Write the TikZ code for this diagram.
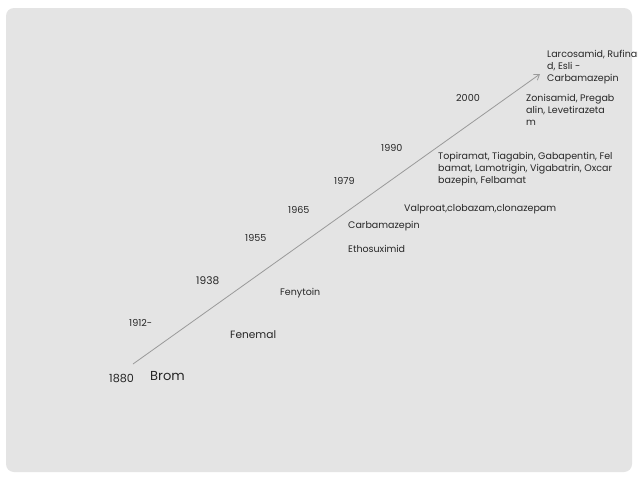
\documentclass[tikz,border=0pt]{standalone}
\usepackage{fontspec}
\setmainfont{Poppins}
\usetikzlibrary{arrows.meta}
\definecolor{bgc}{HTML}{E4E4E4}
\definecolor{txt}{HTML}{262626}
\definecolor{linec}{HTML}{9A9A9A}
\tikzset{
  lbl/.style={anchor=west, inner sep=0pt, text=txt, font=\fontsize{9.5}{12}\selectfont, align=left},
  yr/.style={anchor=west, inner sep=0pt, text=txt, font=\fontsize{9.6}{12}\selectfont},
  big/.style={anchor=west, inner sep=0pt, text=txt, font=\fontsize{10.6}{12}\selectfont},
  tl/.style={draw=linec, line width=0.8pt, -{Straight Barb[length=5pt,width=7pt]}}
}
\begin{document}
\begin{tikzpicture}[x=1pt,y=-1pt]
\useasboundingbox (0,0) rectangle (638,479);
\fill[white] (0,0) rectangle (638,479);
\fill[bgc, rounded corners=8pt] (6,8) rectangle (632,472);
\begin{scope}
\clip (0,0) rectangle (638,479);
\coordinate (s) at (133,364);
\coordinate (e) at (540,74);
\draw[tl] (s) -- (e);
\node[big] (y1880) at (109,378) {\fontsize{11.2}{12}\selectfont 1880};
\node[big] (brom) at (150,376) {\fontsize{13}{14}\selectfont Brom};
\node[yr] (y1912) at (129,323) {1912-};
\node[big] (fenemal) at (230,335) {Fenemal};
\node[big] (y1938) at (196,281) {1938};
\node[lbl] (fenytoin) at (280,293) {Fenytoin};
\node[yr] (y1955) at (245,238) {1955};
\node[yr] (y1965) at (288,210) {1965};
\node[lbl] (carba) at (348,226) {Carbamazepin};
\node[lbl] (etho) at (348,249) {Ethosuximid};
\node[yr] (y1979) at (334,181) {1979};
\node[lbl] (valp) at (404,209) {Valproat,clobazam,clonazepam};
\node[yr] (y1990) at (381,148) {1990};
\node[lbl] (topi) at (438,169) {Topiramat, Tiagabin, Gabapentin, Fel\\bamat, Lamotrigin, Vigabatrin, Oxcar\\bazepin, Felbamat};
\node[yr] (y2000) at (456,98) {2000};
\node[lbl] (zoni) at (526,110) {Zonisamid, Pregab\\alin, Levetirazeta\\m};
\node[lbl] (larc) at (547,67) {Larcosamid, Rufinami\\d, Esli -\\Carbamazepin};
\end{scope}
\end{tikzpicture}
\end{document}
